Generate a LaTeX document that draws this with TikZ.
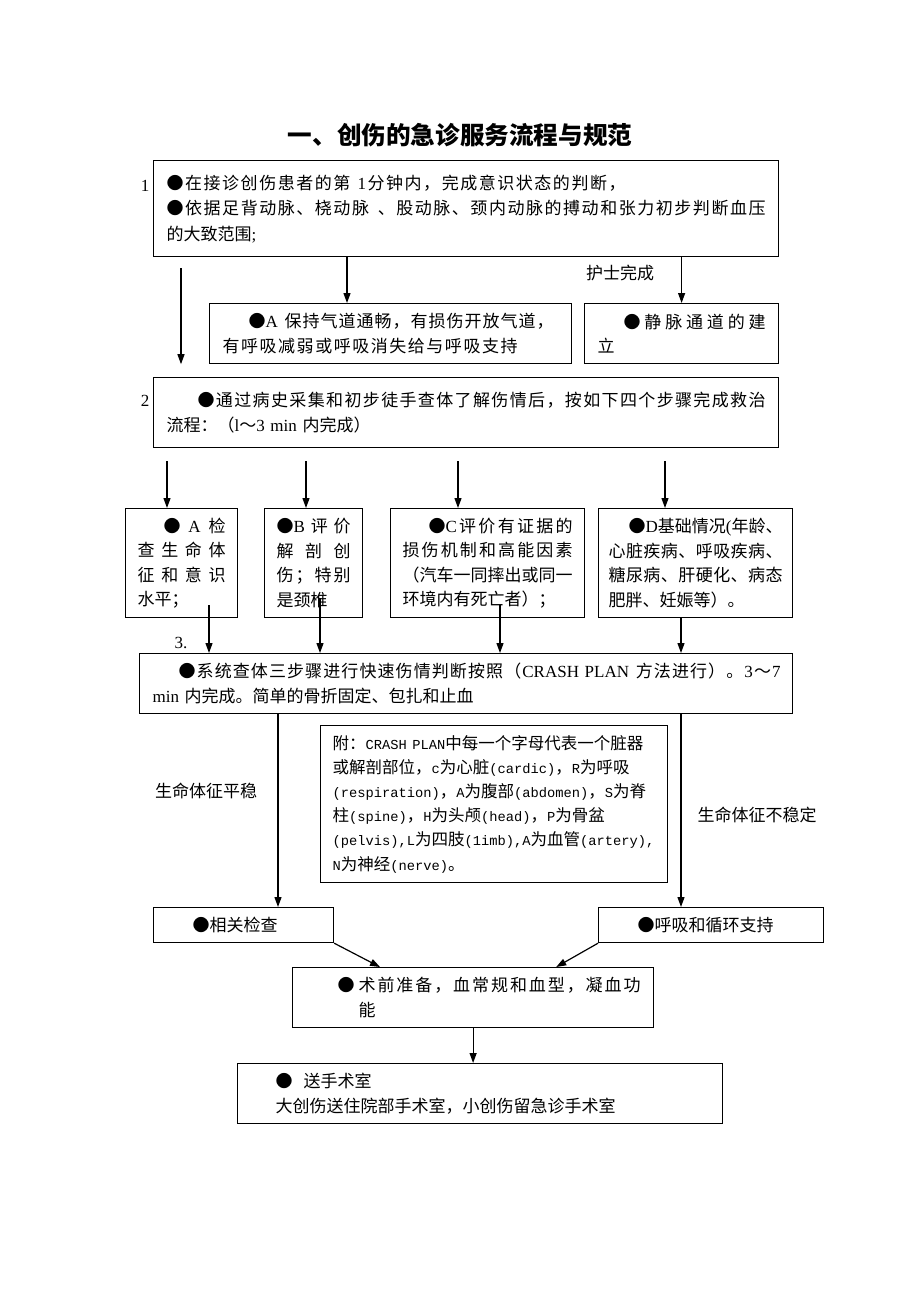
\documentclass[tikz,border=0pt]{standalone}
\usepackage{fontspec}
\setmainfont{Noto Sans CJK SC}
\newfontfamily\lat{Liberation Serif}
\newfontfamily\mono{Liberation Mono}[Scale=0.833]
\usetikzlibrary{arrows.meta}
\def\spr#1{{#1}\sprx}
\def\sprx#1{\ifx\relax#1\else\hfil{#1}\expandafter\sprx\fi}
\newcommand\jl[2]{\makebox[#1][s]{\spr#2\relax}}
\tikzset{
  box/.style={draw, line width=1.2pt, anchor=north west, inner xsep=13pt, inner ysep=0pt, align=left, font=\fontsize{17}{24.5}\selectfont},
  lbl/.style={font=\fontsize{17}{20}\selectfont},
  arr/.style={line width=1.2pt, -{Triangle[length=10pt,width=7pt]}}
}
\begin{document}
\begin{tikzpicture}[x=1pt,y=-1pt]
\useasboundingbox (0,0) rectangle (920,1302);
\node[font=\fontsize{24.6}{30}\selectfont\bfseries] (title) at (460,135) {一、创伤的急诊服务流程与规范};
\node[box, text width=599pt, minimum height=96pt, font=\fontsize{17}{25.5}\selectfont] (b1) at (153,160) {\jl{459pt}{●在接诊创伤患者的第{\lat\ 1}分钟内，完成意识状态的判断，}\\\jl{599pt}{●依据足背动脉、桡动脉{\ }、股动脉、颈内动脉的搏动和张力初步判断血压}\\的大致范围{\lat ;}};
\node[lbl, font=\lat\fontsize{17}{20}\selectfont] (n1) at (145,186) {1};
\node[box, text width=336pt, minimum height=60pt] (air) at (209,303) {\hspace*{26pt}\jl{305pt}{{●{\lat A\ }}保持气道通畅，有损伤开放气道，}\\\jl{295pt}{有呼吸减弱或呼吸消失给与呼吸支持}};
\node[box, text width=168pt, minimum height=60pt] (iv) at (584,303) {\hspace*{26pt}\jl{142pt}{●静脉通道的建}\\立};
\node[lbl] (nurse) at (620,273) {护士完成};
\node[box, text width=599pt, minimum height=70pt] (b2) at (153,377) {\hspace*{31pt}\jl{568pt}{●通过病史采集和初步徒手查体了解伤情后，按如下四个步骤完成救治}\\流程：（{\lat l}～{\lat 3 min} 内完成）};
\node[lbl, font=\lat\fontsize{17}{20}\selectfont] (n2) at (145,401) {2};
\node[box, inner xsep=12pt, text width=88pt, minimum height=109pt] (ba) at (125,508) {\hspace*{26pt}\jl{62pt}{●{\lat A}检}\\\jl{88pt}{查生命体}\\\jl{88pt}{征和意识}\\水平；};
\node[box, inner xsep=12pt, text width=74pt, minimum height=109pt] (bb) at (264,508) {\jl{74pt}{{●{\lat B}}评价}\\\jl{74pt}{解剖创}\\\jl{74pt}{伤；特别}\\是颈椎};
\node[box, inner xsep=12pt, text width=170pt, minimum height=109pt] (bc) at (390,508) {\hspace*{26pt}\jl{144pt}{{●{\lat C}}评价有证据的}\\\jl{170pt}{损伤机制和高能因素}\\\jl{170pt}{（汽车一同摔出或同一}\\环境内有死亡者）；};
\node[box, inner xsep=10pt, text width=174pt, minimum height=109pt] (bd) at (598,508) {\hspace*{20pt}\jl{154pt}{{●{\lat D}}基础情况{\lat (}年龄、}\\\jl{174pt}{心脏疾病、呼吸疾病、}\\\jl{174pt}{糖尿病、肝硬化、病态}\\肥胖、妊娠等）。};
\node[lbl, font=\lat\fontsize{17}{20}\selectfont] (n3) at (181,643) {3.};
\node[box, text width=627pt, minimum height=60pt] (b3) at (139,653) {\hspace*{26pt}\jl{602pt}{●系统查体三步骤进行快速伤情判断按照（{\lat CRASH PLAN\ }方法进行）。{\lat 3}～{\lat 7}}\\{\lat min} 内完成。简单的骨折固定、包扎和止血};
\node[box, inner xsep=12pt, text width=323pt, minimum height=157pt, font=\fontsize{16.5}{24.2}\selectfont] (note) at (320,725) {附：{\mono CRASH PLAN}中每一个字母代表一个脏器\\或解剖部位，{\mono c}为心脏{\mono (cardic)}，{\mono R}为呼吸\\{\mono (respiration)}，{\mono A}为腹部{\mono (abdomen)}，{\mono S}为脊\\柱{\mono (spine)}，{\mono H}为头颅{\mono (head)}，{\mono P}为骨盆\\{\mono (pelvis),L}为四肢{\mono (1imb),A}为血管{\mono (artery),}\\{\mono N}为神经{\mono (nerve)}。};
\node[lbl] (stable) at (206,791) {生命体征平稳};
\node[lbl] (unstable) at (757,815) {生命体征不稳定};
\node[box, text width=154pt, minimum height=35pt] (chk) at (153,907) {\hspace*{26pt}●相关检查};
\node[box, text width=199pt, minimum height=35pt] (sup) at (598,907) {\hspace*{26pt}●呼吸和循环支持};
\node[box, text width=335pt, minimum height=60pt] (pre) at (292,967) {\hspace*{32pt}●\hspace{4pt}\jl{282pt}{术前准备，血常规和血型，凝血功}\\\hspace*{53pt}能};
\node[box, text width=459pt, minimum height=60pt] (op) at (237,1063) {\hspace*{25pt}●\hspace{11pt}送手术室\\\hspace*{25pt}大创伤送住院部手术室，小创伤留急诊手术室};
\coordinate (l1) at (181,268);
\coordinate (k1) at (347,0);
\coordinate (s1) at (167,461);
\coordinate (s2) at (306,461);
\coordinate (s3) at (458,461);
\coordinate (s4) at (665,461);
\coordinate (t1) at (209,605);
\coordinate (t2) at (320,598);
\coordinate (t3) at (500,605);
\coordinate (t4) at (681,617);
\coordinate (u1) at (278,0);
\coordinate (u2) at (681,0);
\draw[arr] (l1) -- (l1 |- air.south);
\draw[arr] (k1 |- b1.south) -- (k1 |- air.north);
\draw[arr] (iv.north |- b1.south) -- (iv.north);
\draw[arr] (s1) -- (s1 |- ba.north);
\draw[arr] (s2) -- (s2 |- bb.north);
\draw[arr] (s3) -- (s3 |- bc.north);
\draw[arr] (s4) -- (s4 |- bd.north);
\draw[arr] (t1) -- (t1 |- b3.north);
\draw[arr] (t2) -- (t2 |- b3.north);
\draw[arr] (t3) -- (t3 |- b3.north);
\draw[arr] (t4) -- (t4 |- b3.north);
\draw[arr] (u1 |- b3.south) -- (u1 |- chk.north);
\draw[arr] (u2 |- b3.south) -- (u2 |- sup.north);
\draw[arr] (chk.south east) -- ([xshift=88pt]pre.north west);
\draw[arr] (sup.south west) -- ([xshift=-98pt]pre.north east);
\draw[arr] (pre.south) -- (pre.south |- op.north);
\end{tikzpicture}
\end{document}
